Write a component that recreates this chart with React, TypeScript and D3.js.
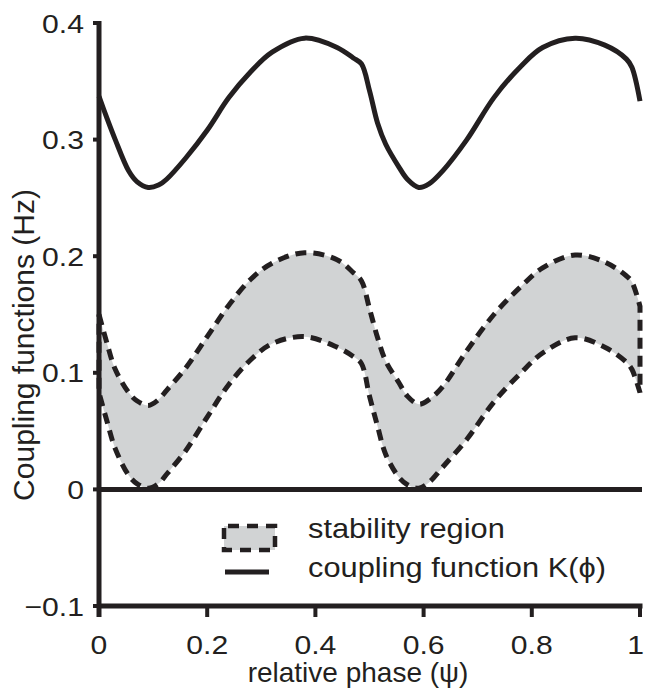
import React from "react";
import * as d3 from "d3";

const psi = [0, 0.015, 0.03, 0.055, 0.07, 0.091, 0.11, 0.125, 0.16, 0.2, 0.24, 0.28, 0.32, 0.38, 0.44, 0.47, 0.485, 0.5, 0.515, 0.53, 0.555, 0.57, 0.591, 0.61, 0.635, 0.68, 0.73, 0.78, 0.82, 0.88, 0.935, 0.975, 0.985, 1.0];
const kValues = [0.337, 0.318, 0.300, 0.273, 0.264, 0.259, 0.261, 0.266, 0.284, 0.308, 0.336, 0.358, 0.375, 0.387, 0.379, 0.370, 0.365, 0.342, 0.314, 0.296, 0.276, 0.266, 0.259, 0.262, 0.273, 0.300, 0.336, 0.363, 0.379, 0.387, 0.381, 0.369, 0.362, 0.333];
const upperValues = [0.150, 0.125, 0.103, 0.083, 0.076, 0.072, 0.077, 0.085, 0.104, 0.131, 0.158, 0.180, 0.194, 0.203, 0.197, 0.186, 0.179, 0.155, 0.130, 0.110, 0.091, 0.080, 0.073, 0.077, 0.088, 0.119, 0.150, 0.174, 0.190, 0.201, 0.195, 0.183, 0.178, 0.157];
const lowerValues = [0.083, 0.058, 0.035, 0.012, 0.005, 0.001, 0.005, 0.013, 0.033, 0.062, 0.090, 0.111, 0.125, 0.131, 0.122, 0.114, 0.108, 0.080, 0.054, 0.030, 0.010, 0.004, 0.001, 0.006, 0.019, 0.043, 0.075, 0.100, 0.117, 0.130, 0.122, 0.109, 0.103, 0.083];

const xTicks = [0, 0.2, 0.4, 0.6, 0.8, 1];
const xTickLabels = ["0", "0.2", "0.4", "0.6", "0.8", "1"];
const yTicks = [-0.1, 0, 0.1, 0.2, 0.3, 0.4];
const yTickLabels = ["\u22120.1", "0", "0.1", "0.2", "0.3", "0.4"];

const legendLabels = ["stability region", "coupling function K(\u03D5)"];
const xLabel = "relative phase (\u03C8)";
const yLabel = "Coupling functions (Hz)";

const INK = "#231f20";
const GRAY = "#d1d3d4";
const FONT = "'Liberation Sans', Arial, Helvetica, sans-serif";

export default function App() {
  const W = 645, H = 690;
  const x = d3.scaleLinear().domain([0, 1]).range([99, 640]);
  const y = d3.scaleLinear().domain([-0.1, 0.4]).range([606, 23]);

  const idx = psi.map((_, i) => i);
  const curve = d3.curveCatmullRom.alpha(0.5);
  const area = d3.area<number>()
    .x((i) => x(psi[i]))
    .y0((i) => y(lowerValues[i]))
    .y1((i) => y(upperValues[i]))
    .curve(curve);
  const line = d3.line<number>()
    .x((i) => x(psi[i]))
    .y((i) => y(kValues[i]))
    .curve(curve);

  const bandPath = area(idx) || "";
  const kPath = line(idx) || "";

  const x0 = x(0), x1 = x(1);
  const yBottom = y(-0.1), yTop = y(0.4);

  return (
    <svg width={W} height={H} style={{ position: "absolute", left: 0, top: 0, background: "#fff" }}>
      <rect x={0} y={0} width={W} height={H} fill="#fff" />
      {/* stability band */}
      <path d={bandPath} fill={GRAY} stroke="none" />
      <path d={bandPath} fill="none" stroke={INK} strokeWidth={5} strokeDasharray="11,7" />
      {/* zero line */}
      <line x1={x0} x2={x1 + 2} y1={y(0)} y2={y(0)} stroke={INK} strokeWidth={5} />
      {/* coupling function */}
      <path d={kPath} fill="none" stroke={INK} strokeWidth={5} strokeLinejoin="round" />

      {/* y axis */}
      <line x1={x0} x2={x0} y1={yTop - 2} y2={yBottom} stroke={INK} strokeWidth={5} />
      {yTicks.map((t, i) => (
        <g key={"yt" + i}>
          <line x1={x0 - 6} x2={x0} y1={y(t)} y2={y(t)} stroke={INK} strokeWidth={4} />
          <g transform={`translate(${84},${y(t) + 9.5}) scale(1.16,1)`}>
            <text textAnchor="end" fontFamily={FONT} fontSize={26} fill={INK}>{yTickLabels[i]}</text>
          </g>
        </g>
      ))}
      {/* x axis */}
      <line x1={x0} x2={x1 + 2.5} y1={yBottom} y2={yBottom} stroke={INK} strokeWidth={5} />
      {xTicks.map((t, i) => (
        <g key={"xt" + i}>
          <line x1={x(t)} x2={x(t)} y1={yBottom} y2={yBottom + 11} stroke={INK} strokeWidth={i === 0 ? 5 : 4} />
          <g transform={`translate(${i === xTicks.length - 1 ? 644 : x(t)},${654}) scale(1.16,1)`}>
            <text textAnchor={i === xTicks.length - 1 ? "end" : "middle"} fontFamily={FONT} fontSize={26} fill={INK}>{xTickLabels[i]}</text>
          </g>
        </g>
      ))}
      <text x={358} y={682} textAnchor="middle" fontFamily={FONT} fontSize={28} fill={INK}>{xLabel}</text>
      <text transform={`translate(34,345) rotate(-90)`} textAnchor="middle" fontFamily={FONT} fontSize={30} fill={INK}>{yLabel}</text>

      {/* legend */}
      <rect x={224} y={526} width={51} height={24} fill={GRAY} stroke={INK} strokeWidth={4.5} strokeDasharray="11,8" strokeDashoffset={-4} />
      <line x1={225} x2={269} y1={572} y2={572} stroke={INK} strokeWidth={5} />
      <g transform={`translate(308,538) scale(1.12,1)`}>
        <text fontFamily={FONT} fontSize={27.5} fill={INK}>{legendLabels[0]}</text>
      </g>
      <g transform={`translate(308,577) scale(1.12,1)`}>
        <text fontFamily={FONT} fontSize={27.5} fill={INK}>{legendLabels[1]}</text>
      </g>
    </svg>
  );
}
